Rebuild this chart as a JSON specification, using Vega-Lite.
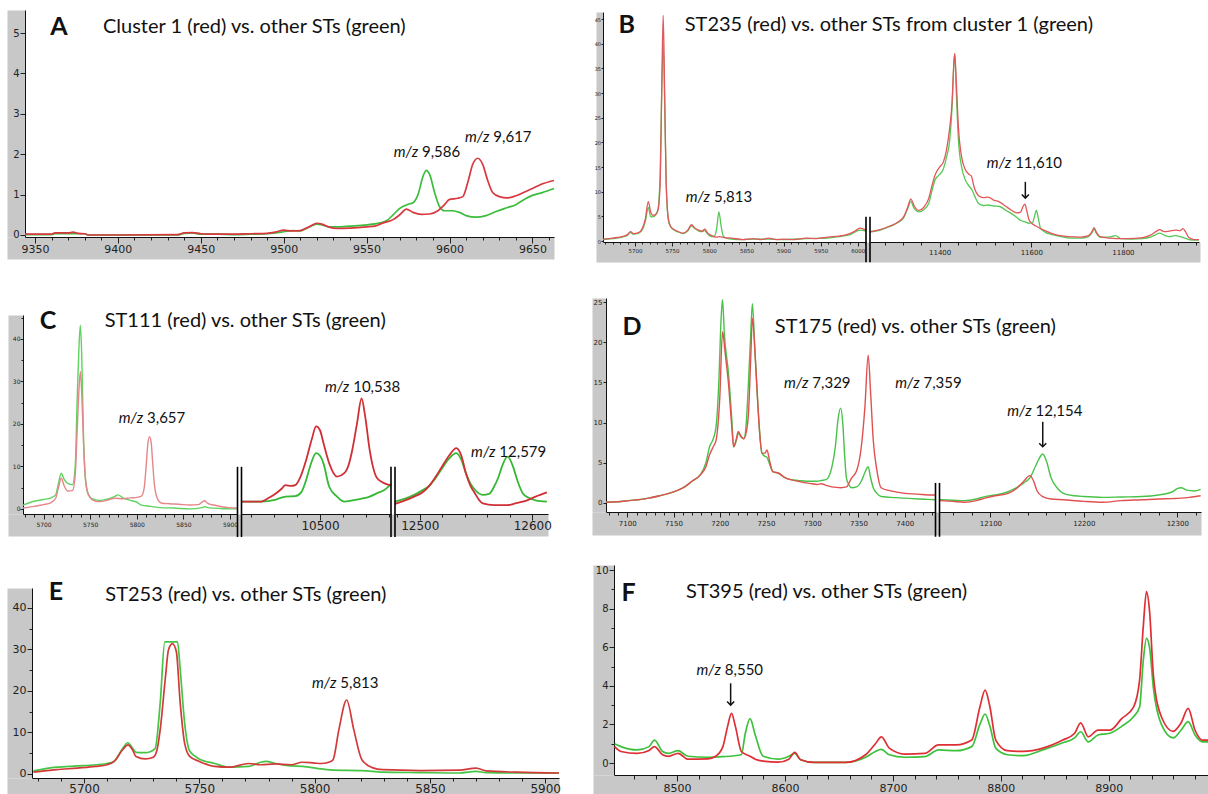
{
"$schema": "https://vega.github.io/schema/vega-lite/v6.json",
"width": 1208, "height": 794,
"autosize": {"type": "none"},
"padding": 0,
"background": "white",
"config": {
  "view": {"stroke": null},
  "axis": {"labelFont": "DejaVu Sans", "labelColor": "#222", "tickColor": "#222", "domainColor": "#111", "grid": false, "labelOverlap": false, "labelFlush": false, "labelBound": false},
  "line": {"interpolate": "monotone", "strokeWidth": 1.7},
  "text": {"font": "Lato", "color": "#111"}
},
"datasets": {
  "Ag": [{"x":9344,"y":0.01},{"x":9360,"y":0.01},{"x":9362,"y":0.03},{"x":9380,"y":0.03},{"x":9382,"y":0},{"x":9436,"y":0},{"x":9440,"y":0.04},{"x":9445,"y":0.05},{"x":9450,"y":0.02},{"x":9460,"y":0.02},{"x":9470,"y":0.01},{"x":9480,"y":0.02},{"x":9490,"y":0.03},{"x":9495,"y":0.05},{"x":9500,"y":0.08},{"x":9505,"y":0.11},{"x":9510,"y":0.1},{"x":9513,"y":0.15},{"x":9517,"y":0.23},{"x":9520,"y":0.27},{"x":9523,"y":0.25},{"x":9527,"y":0.2},{"x":9532,"y":0.2},{"x":9540,"y":0.22},{"x":9550,"y":0.25},{"x":9558,"y":0.3},{"x":9562,"y":0.35},{"x":9566,"y":0.5},{"x":9570,"y":0.66},{"x":9575,"y":0.76},{"x":9578,"y":0.8},{"x":9581,"y":1.0},{"x":9584,"y":1.45},{"x":9586,"y":1.6},{"x":9588,"y":1.5},{"x":9591,"y":1.05},{"x":9594,"y":0.7},{"x":9597,"y":0.6},{"x":9602,"y":0.6},{"x":9606,"y":0.56},{"x":9610,"y":0.48},{"x":9616,"y":0.44},{"x":9622,"y":0.48},{"x":9628,"y":0.58},{"x":9635,"y":0.68},{"x":9640,"y":0.75},{"x":9645,"y":0.88},{"x":9650,"y":0.98},{"x":9656,"y":1.05},{"x":9663,"y":1.15}],
  "Ar": [{"x":9344,"y":0.02},{"x":9360,"y":0.02},{"x":9362,"y":0.05},{"x":9370,"y":0.05},{"x":9373,"y":0.07},{"x":9376,"y":0.04},{"x":9380,"y":0.03},{"x":9382,"y":0},{"x":9400,"y":0},{"x":9436,"y":0.01},{"x":9440,"y":0.05},{"x":9445,"y":0.06},{"x":9450,"y":0.03},{"x":9455,"y":0.02},{"x":9460,"y":0.02},{"x":9470,"y":0.02},{"x":9480,"y":0.03},{"x":9490,"y":0.04},{"x":9495,"y":0.07},{"x":9500,"y":0.12},{"x":9505,"y":0.1},{"x":9510,"y":0.11},{"x":9513,"y":0.16},{"x":9517,"y":0.24},{"x":9520,"y":0.29},{"x":9523,"y":0.27},{"x":9527,"y":0.2},{"x":9532,"y":0.16},{"x":9540,"y":0.17},{"x":9550,"y":0.2},{"x":9555,"y":0.22},{"x":9560,"y":0.3},{"x":9566,"y":0.38},{"x":9570,"y":0.5},{"x":9574,"y":0.64},{"x":9578,"y":0.56},{"x":9583,"y":0.51},{"x":9588,"y":0.52},{"x":9593,"y":0.6},{"x":9597,"y":0.75},{"x":9600,"y":0.88},{"x":9605,"y":0.91},{"x":9608,"y":0.95},{"x":9611,"y":1.3},{"x":9614,"y":1.75},{"x":9617,"y":1.9},{"x":9620,"y":1.75},{"x":9623,"y":1.35},{"x":9626,"y":1.05},{"x":9630,"y":0.95},{"x":9635,"y":0.92},{"x":9640,"y":0.97},{"x":9645,"y":1.06},{"x":9650,"y":1.15},{"x":9655,"y":1.25},{"x":9663,"y":1.35}],
  "BLr": [{"x":5657,"y":0.4},{"x":5670,"y":0.6},{"x":5685,"y":1.0},{"x":5690,"y":1.3},{"x":5694,"y":1.9},{"x":5698,"y":1.5},{"x":5705,"y":1.7},{"x":5710,"y":2.6},{"x":5714,"y":4.5},{"x":5718,"y":8.0},{"x":5721,"y":6.0},{"x":5724,"y":5.2},{"x":5728,"y":5.4},{"x":5731,"y":6.2},{"x":5734,"y":12},{"x":5736,"y":30},{"x":5738,"y":45.8},{"x":5740,"y":30},{"x":5742,"y":12},{"x":5745,"y":4.5},{"x":5748,"y":3.0},{"x":5752,"y":2.4},{"x":5757,"y":2.0},{"x":5765,"y":1.6},{"x":5771,"y":2.2},{"x":5776,"y":3.3},{"x":5781,"y":2.6},{"x":5786,"y":2.2},{"x":5790,"y":2.0},{"x":5794,"y":2.4},{"x":5798,"y":1.6},{"x":5803,"y":1.1},{"x":5810,"y":0.8},{"x":5814,"y":0.9},{"x":5820,"y":0.7},{"x":5830,"y":0.6},{"x":5845,"y":0.3},{"x":5860,"y":0.5},{"x":5870,"y":0.3},{"x":5880,"y":0.6},{"x":5890,"y":0.3},{"x":5900,"y":0.4},{"x":5915,"y":0.3},{"x":5930,"y":0.6},{"x":5945,"y":0.5},{"x":5960,"y":0.8},{"x":5975,"y":1.0},{"x":5985,"y":1.3},{"x":5995,"y":1.9},{"x":6003,"y":2.6},{"x":6011,"y":2.2}],
  "BLg": [{"x":5657,"y":0.3},{"x":5670,"y":0.5},{"x":5685,"y":0.9},{"x":5690,"y":1.2},{"x":5694,"y":1.7},{"x":5698,"y":1.4},{"x":5705,"y":1.6},{"x":5710,"y":2.3},{"x":5714,"y":4.0},{"x":5718,"y":6.8},{"x":5721,"y":5.0},{"x":5724,"y":4.9},{"x":5728,"y":5.3},{"x":5731,"y":6.5},{"x":5734,"y":14},{"x":5736,"y":30},{"x":5738,"y":40},{"x":5740,"y":28},{"x":5742,"y":12},{"x":5745,"y":4.2},{"x":5748,"y":2.9},{"x":5752,"y":2.3},{"x":5757,"y":1.9},{"x":5765,"y":1.5},{"x":5771,"y":2.0},{"x":5776,"y":3.0},{"x":5781,"y":2.5},{"x":5786,"y":2.0},{"x":5790,"y":1.9},{"x":5794,"y":2.1},{"x":5798,"y":1.4},{"x":5803,"y":0.9},{"x":5807,"y":1.0},{"x":5810,"y":2.5},{"x":5813,"y":5.9},{"x":5816,"y":3.0},{"x":5819,"y":1.0},{"x":5825,"y":0.5},{"x":5840,"y":0.3},{"x":5860,"y":0.4},{"x":5880,"y":0.4},{"x":5900,"y":0.3},{"x":5930,"y":0.5},{"x":5960,"y":0.6},{"x":5975,"y":0.9},{"x":5990,"y":1.3},{"x":6003,"y":2.2},{"x":6011,"y":2.0}],
  "BRr": [{"x":11248,"y":1.9},{"x":11270,"y":2.3},{"x":11290,"y":3.0},{"x":11310,"y":3.9},{"x":11322,"y":5.0},{"x":11330,"y":6.8},{"x":11337,"y":8.5},{"x":11345,"y":7.0},{"x":11355,"y":6.2},{"x":11365,"y":6.8},{"x":11376,"y":8.6},{"x":11384,"y":11.5},{"x":11390,"y":13.4},{"x":11400,"y":15.0},{"x":11408,"y":16.0},{"x":11415,"y":18.5},{"x":11422,"y":23.0},{"x":11427,"y":28},{"x":11431,"y":36},{"x":11433,"y":38},{"x":11436,"y":33},{"x":11441,"y":23},{"x":11448,"y":17},{"x":11456,"y":14.5},{"x":11463,"y":13.6},{"x":11469,"y":13.2},{"x":11475,"y":11},{"x":11485,"y":9.2},{"x":11495,"y":8.8},{"x":11506,"y":8.9},{"x":11518,"y":8.3},{"x":11531,"y":7.9},{"x":11545,"y":7.0},{"x":11556,"y":6.3},{"x":11568,"y":5.7},{"x":11576,"y":5.8},{"x":11582,"y":7.0},{"x":11586,"y":7.5},{"x":11590,"y":6.2},{"x":11595,"y":4.3},{"x":11602,"y":3.5},{"x":11611,"y":3.0},{"x":11625,"y":2.3},{"x":11640,"y":1.7},{"x":11657,"y":1.2},{"x":11680,"y":0.9},{"x":11708,"y":0.8},{"x":11725,"y":1.1},{"x":11733,"y":2.0},{"x":11737,"y":2.7},{"x":11742,"y":1.8},{"x":11750,"y":0.9},{"x":11770,"y":0.6},{"x":11784,"y":0.5},{"x":11810,"y":0.5},{"x":11843,"y":0.7},{"x":11860,"y":1.2},{"x":11872,"y":1.9},{"x":11880,"y":2.3},{"x":11890,"y":1.9},{"x":11901,"y":2.0},{"x":11915,"y":2.2},{"x":11925,"y":2.1},{"x":11931,"y":2.5},{"x":11937,"y":1.8},{"x":11944,"y":0.7},{"x":11955,"y":0.3},{"x":11966,"y":0.3}],
  "BRg": [{"x":11248,"y":1.8},{"x":11270,"y":2.2},{"x":11290,"y":2.9},{"x":11310,"y":3.8},{"x":11322,"y":4.8},{"x":11330,"y":6.5},{"x":11337,"y":8.0},{"x":11345,"y":6.5},{"x":11355,"y":5.9},{"x":11365,"y":6.3},{"x":11376,"y":7.6},{"x":11384,"y":10.5},{"x":11390,"y":12.4},{"x":11400,"y":13.5},{"x":11408,"y":14.6},{"x":11415,"y":17},{"x":11422,"y":20.5},{"x":11427,"y":27},{"x":11431,"y":36},{"x":11433,"y":38},{"x":11436,"y":31},{"x":11441,"y":20.5},{"x":11448,"y":15},{"x":11456,"y":12.4},{"x":11463,"y":11.3},{"x":11471,"y":10.3},{"x":11478,"y":8.8},{"x":11485,"y":7.6},{"x":11495,"y":7.2},{"x":11506,"y":7.3},{"x":11518,"y":7.1},{"x":11531,"y":7.0},{"x":11545,"y":6.2},{"x":11556,"y":5.6},{"x":11568,"y":4.8},{"x":11576,"y":4.2},{"x":11586,"y":3.9},{"x":11595,"y":3.6},{"x":11603,"y":3.8},{"x":11607,"y":5.0},{"x":11611,"y":6.2},{"x":11615,"y":4.8},{"x":11620,"y":2.6},{"x":11630,"y":1.8},{"x":11645,"y":1.3},{"x":11660,"y":1.0},{"x":11690,"y":0.6},{"x":11708,"y":0.6},{"x":11725,"y":0.9},{"x":11733,"y":1.8},{"x":11737,"y":2.4},{"x":11742,"y":1.6},{"x":11750,"y":0.8},{"x":11770,"y":0.8},{"x":11784,"y":1.1},{"x":11795,"y":0.5},{"x":11820,"y":0.4},{"x":11843,"y":0.5},{"x":11860,"y":0.8},{"x":11872,"y":1.3},{"x":11880,"y":1.6},{"x":11890,"y":1.2},{"x":11901,"y":0.9},{"x":11915,"y":1.1},{"x":11925,"y":0.9},{"x":11935,"y":0.6},{"x":11944,"y":0.3},{"x":11955,"y":0.2},{"x":11966,"y":0.2}],
  "CLr": [{"x":5678,"y":0.2},{"x":5690,"y":0.6},{"x":5700,"y":1.0},{"x":5708,"y":1.5},{"x":5713,"y":2.5},{"x":5716,"y":5.0},{"x":5719,"y":7.2},{"x":5722,"y":5.5},{"x":5726,"y":4.2},{"x":5731,"y":4.3},{"x":5734,"y":8},{"x":5736,"y":18},{"x":5738,"y":28},{"x":5739.5,"y":32.3},{"x":5741,"y":27},{"x":5743,"y":15},{"x":5745,"y":7},{"x":5748,"y":3.3},{"x":5752,"y":2.2},{"x":5760,"y":1.7},{"x":5768,"y":2.0},{"x":5776,"y":2.5},{"x":5785,"y":2.4},{"x":5793,"y":2.6},{"x":5800,"y":2.7},{"x":5805,"y":3.0},{"x":5808,"y":5.0},{"x":5810,"y":10},{"x":5812,"y":15.5},{"x":5813.7,"y":17.0},{"x":5815.5,"y":15.5},{"x":5817,"y":11},{"x":5819,"y":5.5},{"x":5822,"y":2.5},{"x":5826,"y":1.4},{"x":5835,"y":1.2},{"x":5845,"y":1.1},{"x":5857,"y":0.9},{"x":5866,"y":1.0},{"x":5870,"y":1.6},{"x":5873,"y":1.9},{"x":5876,"y":1.3},{"x":5885,"y":0.8},{"x":5898,"y":0.3},{"x":5908,"y":0.2}],
  "CLg": [{"x":5678,"y":0.9},{"x":5690,"y":1.8},{"x":5700,"y":2.2},{"x":5708,"y":2.6},{"x":5713,"y":3.3},{"x":5716,"y":6.0},{"x":5719,"y":8.4},{"x":5722,"y":7.0},{"x":5726,"y":6.0},{"x":5731,"y":5.7},{"x":5734,"y":10},{"x":5736,"y":25},{"x":5738,"y":38},{"x":5739.5,"y":43.2},{"x":5741,"y":36},{"x":5743,"y":16},{"x":5745,"y":7},{"x":5748,"y":3.5},{"x":5752,"y":2.4},{"x":5760,"y":2.0},{"x":5768,"y":2.3},{"x":5776,"y":2.9},{"x":5780,"y":3.3},{"x":5785,"y":2.6},{"x":5793,"y":2.0},{"x":5800,"y":1.6},{"x":5805,"y":0.9},{"x":5815,"y":0.6},{"x":5825,"y":0.3},{"x":5840,"y":0.2},{"x":5857,"y":0.0},{"x":5870,"y":0.3},{"x":5873,"y":0.5},{"x":5876,"y":0.3},{"x":5890,"y":0.1},{"x":5908,"y":0.0}],
  "CMr": [{"x":10432,"y":1.7},{"x":10449,"y":1.7},{"x":10455,"y":2.5},{"x":10462,"y":3.7},{"x":10467,"y":4.8},{"x":10470,"y":5.6},{"x":10475,"y":5.4},{"x":10478.5,"y":5.6},{"x":10483,"y":7.5},{"x":10488,"y":11.5},{"x":10493,"y":16.5},{"x":10496.6,"y":19.4},{"x":10500,"y":18.5},{"x":10503,"y":15.5},{"x":10508,"y":10.7},{"x":10514.8,"y":7.6},{"x":10521,"y":8.4},{"x":10525,"y":10.5},{"x":10528,"y":13.9},{"x":10532,"y":20},{"x":10536,"y":26.0},{"x":10539,"y":22},{"x":10543,"y":13.9},{"x":10549.5,"y":7.2},{"x":10556,"y":6.0},{"x":10561.5,"y":5.5}],
  "CMg": [{"x":10432,"y":1.7},{"x":10449,"y":1.7},{"x":10462,"y":2.2},{"x":10470,"y":2.9},{"x":10478.5,"y":3.0},{"x":10484,"y":4.0},{"x":10488,"y":6.8},{"x":10492,"y":10.5},{"x":10496.6,"y":13.1},{"x":10500,"y":12.5},{"x":10503,"y":10.7},{"x":10508,"y":5.2},{"x":10514.8,"y":2.9},{"x":10521,"y":1.7},{"x":10528,"y":2.0},{"x":10536,"y":2.4},{"x":10543,"y":2.9},{"x":10549.5,"y":3.7},{"x":10556,"y":4.5},{"x":10561.5,"y":5.9}],
  "CRr": [{"x":12478,"y":1.2},{"x":12487,"y":2.0},{"x":12495,"y":2.9},{"x":12502,"y":3.8},{"x":12509,"y":5.6},{"x":12514,"y":7.5},{"x":12519,"y":9.6},{"x":12526,"y":12.5},{"x":12532.5,"y":14.3},{"x":12537,"y":12.5},{"x":12541,"y":8.4},{"x":12545,"y":5.5},{"x":12549,"y":3.7},{"x":12553,"y":2.0},{"x":12556,"y":1.3},{"x":12566,"y":0.9},{"x":12578,"y":0.9},{"x":12585,"y":1.3},{"x":12591.5,"y":1.7},{"x":12597,"y":2.2},{"x":12603,"y":2.9},{"x":12613,"y":3.9}],
  "CRg": [{"x":12478,"y":1.7},{"x":12487,"y":2.4},{"x":12495,"y":3.3},{"x":12502,"y":4.3},{"x":12509,"y":5.6},{"x":12514,"y":7.2},{"x":12519,"y":9.2},{"x":12526,"y":11.8},{"x":12532.5,"y":13.1},{"x":12537,"y":11.5},{"x":12541,"y":8.4},{"x":12545,"y":6.0},{"x":12549,"y":4.5},{"x":12556,"y":3.3},{"x":12562,"y":3.6},{"x":12566,"y":5.2},{"x":12570,"y":7.5},{"x":12573,"y":9.9},{"x":12578,"y":12.3},{"x":12583,"y":9.9},{"x":12587,"y":6.5},{"x":12591.5,"y":3.7},{"x":12597,"y":2.6},{"x":12603,"y":2.0},{"x":12613,"y":1.7}],
  "DLr": [{"x":7077,"y":0.1},{"x":7090,"y":0.15},{"x":7102,"y":0.3},{"x":7115,"y":0.45},{"x":7123,"y":0.6},{"x":7135,"y":0.9},{"x":7145,"y":1.2},{"x":7155,"y":1.6},{"x":7162,"y":2.0},{"x":7170,"y":2.7},{"x":7179,"y":3.5},{"x":7185,"y":4.5},{"x":7189,"y":6.0},{"x":7193,"y":7.0},{"x":7196,"y":7.8},{"x":7200,"y":13},{"x":7203,"y":21.3},{"x":7206,"y":18.5},{"x":7209.4,"y":14.9},{"x":7213,"y":9.5},{"x":7215,"y":7.0},{"x":7218,"y":8.0},{"x":7220,"y":8.9},{"x":7223,"y":8.3},{"x":7226,"y":8.0},{"x":7229,"y":9.0},{"x":7231,"y":11.0},{"x":7233.5,"y":18},{"x":7235.3,"y":23.0},{"x":7238,"y":19},{"x":7240.5,"y":13.7},{"x":7243,"y":9.0},{"x":7245.6,"y":6.2},{"x":7249,"y":6.2},{"x":7251,"y":6.6},{"x":7254,"y":5.2},{"x":7257.4,"y":3.9},{"x":7263.7,"y":3.7},{"x":7270,"y":3.2},{"x":7276.6,"y":2.9},{"x":7285,"y":2.7},{"x":7293.6,"y":2.5},{"x":7300,"y":2.4},{"x":7305,"y":2.3},{"x":7310,"y":2.4},{"x":7315,"y":2.2},{"x":7321,"y":2.0},{"x":7331,"y":1.9},{"x":7337,"y":2.0},{"x":7342.5,"y":3.1},{"x":7348,"y":4.0},{"x":7353,"y":6.9},{"x":7357,"y":12},{"x":7360.5,"y":18.4},{"x":7363,"y":14},{"x":7366,"y":7.8},{"x":7370,"y":4.0},{"x":7374.5,"y":1.9},{"x":7385,"y":1.5},{"x":7400,"y":1.2},{"x":7415,"y":1.1},{"x":7425,"y":1.0},{"x":7433,"y":1.0}],
  "DLg": [{"x":7077,"y":0.1},{"x":7090,"y":0.15},{"x":7102,"y":0.3},{"x":7115,"y":0.45},{"x":7123,"y":0.6},{"x":7135,"y":0.9},{"x":7145,"y":1.2},{"x":7155,"y":1.6},{"x":7162,"y":2.0},{"x":7170,"y":2.7},{"x":7179,"y":3.5},{"x":7185,"y":5.0},{"x":7189,"y":7.0},{"x":7193,"y":8.0},{"x":7196,"y":9.5},{"x":7199,"y":15},{"x":7201.5,"y":23},{"x":7203,"y":25.3},{"x":7205,"y":21},{"x":7209.4,"y":16.2},{"x":7213,"y":10.5},{"x":7215,"y":7.0},{"x":7218,"y":7.8},{"x":7220,"y":8.7},{"x":7223,"y":8.2},{"x":7226,"y":8.0},{"x":7229,"y":10.5},{"x":7231,"y":14.9},{"x":7233.5,"y":21},{"x":7235.3,"y":24.8},{"x":7238,"y":19},{"x":7240.5,"y":13.7},{"x":7243,"y":9.0},{"x":7245.6,"y":6.2},{"x":7249,"y":5.8},{"x":7251,"y":5.7},{"x":7254,"y":4.8},{"x":7257.4,"y":3.9},{"x":7263.7,"y":3.7},{"x":7270,"y":3.2},{"x":7276.6,"y":2.9},{"x":7285,"y":2.8},{"x":7293.6,"y":2.7},{"x":7300,"y":2.7},{"x":7305,"y":2.7},{"x":7310,"y":2.8},{"x":7315,"y":2.9},{"x":7318,"y":3.3},{"x":7321.3,"y":4.5},{"x":7325,"y":7.0},{"x":7328,"y":10.5},{"x":7330.7,"y":11.8},{"x":7333,"y":10.0},{"x":7335,"y":6.0},{"x":7337,"y":3.1},{"x":7340,"y":2.2},{"x":7342.5,"y":1.9},{"x":7348,"y":2.0},{"x":7353,"y":2.7},{"x":7357,"y":3.8},{"x":7360.5,"y":4.5},{"x":7363,"y":3.2},{"x":7366,"y":1.9},{"x":7370,"y":1.2},{"x":7374.5,"y":0.8},{"x":7385,"y":0.7},{"x":7400,"y":0.6},{"x":7415,"y":0.5},{"x":7425,"y":0.45},{"x":7433,"y":0.4}],
  "DRr": [{"x":12046,"y":0.3},{"x":12060,"y":0.2},{"x":12072,"y":0.1},{"x":12085,"y":0.3},{"x":12094,"y":0.6},{"x":12105,"y":0.9},{"x":12119,"y":1.2},{"x":12128,"y":1.8},{"x":12135.7,"y":2.7},{"x":12142,"y":3.4},{"x":12146,"y":2.8},{"x":12150,"y":1.5},{"x":12156,"y":0.8},{"x":12165,"y":0.5},{"x":12178,"y":0.4},{"x":12200,"y":0.2},{"x":12220,"y":0.1},{"x":12240,"y":0.3},{"x":12262,"y":0.4},{"x":12280,"y":0.5},{"x":12295,"y":0.55},{"x":12304,"y":0.6},{"x":12313,"y":0.7},{"x":12325,"y":0.9}],
  "DRg": [{"x":12046,"y":0.4},{"x":12060,"y":0.35},{"x":12072,"y":0.3},{"x":12085,"y":0.5},{"x":12094,"y":0.8},{"x":12105,"y":1.0},{"x":12119,"y":1.4},{"x":12128,"y":1.9},{"x":12135.7,"y":2.5},{"x":12142,"y":3.1},{"x":12148,"y":4.5},{"x":12152,"y":5.5},{"x":12156,"y":6.1},{"x":12160,"y":5.2},{"x":12165,"y":3.1},{"x":12172,"y":1.8},{"x":12178,"y":1.2},{"x":12190,"y":0.9},{"x":12200,"y":0.8},{"x":12220,"y":0.7},{"x":12240,"y":0.75},{"x":12262,"y":0.8},{"x":12280,"y":1.0},{"x":12295,"y":1.4},{"x":12300,"y":1.8},{"x":12304,"y":1.9},{"x":12310,"y":1.6},{"x":12318,"y":1.5},{"x":12325,"y":1.7}],
  "Er": [{"x":5678,"y":0.4},{"x":5688,"y":1.0},{"x":5697,"y":1.4},{"x":5705,"y":1.8},{"x":5710,"y":2.2},{"x":5713,"y":3.0},{"x":5716.7,"y":5.8},{"x":5719,"y":7.0},{"x":5721,"y":5.8},{"x":5722.5,"y":4.2},{"x":5726.6,"y":3.6},{"x":5730,"y":4.0},{"x":5731.5,"y":5.5},{"x":5733,"y":10.6},{"x":5735.3,"y":23.4},{"x":5736.6,"y":29.9},{"x":5738.3,"y":31.4},{"x":5740,"y":29.5},{"x":5741.7,"y":17.0},{"x":5743.6,"y":7.4},{"x":5745.8,"y":4.2},{"x":5750,"y":3.0},{"x":5756.6,"y":1.8},{"x":5763,"y":1.6},{"x":5771.5,"y":2.5},{"x":5776.5,"y":2.2},{"x":5783,"y":2.4},{"x":5789.8,"y":2.2},{"x":5794.7,"y":2.8},{"x":5800,"y":2.6},{"x":5803,"y":2.5},{"x":5807,"y":3.0},{"x":5808,"y":3.4},{"x":5810.5,"y":10.6},{"x":5813.9,"y":17.8},{"x":5817,"y":10.6},{"x":5820.5,"y":3.4},{"x":5825,"y":1.5},{"x":5829.6,"y":1.0},{"x":5846,"y":0.8},{"x":5862.8,"y":0.9},{"x":5870,"y":1.4},{"x":5874.5,"y":0.7},{"x":5887.8,"y":0.4},{"x":5906,"y":0.2}],
  "Eg": [{"x":5678,"y":0.7},{"x":5688,"y":1.6},{"x":5697,"y":1.9},{"x":5705,"y":2.2},{"x":5710,"y":2.5},{"x":5713,"y":3.0},{"x":5716.7,"y":6.1},{"x":5719,"y":7.5},{"x":5721,"y":6.2},{"x":5722.5,"y":5.2},{"x":5726.6,"y":5.1},{"x":5730.8,"y":6.1},{"x":5733,"y":17.0},{"x":5735,"y":31.8},{"x":5737,"y":31.8},{"x":5739,"y":31.8},{"x":5740.5,"y":31.8},{"x":5741.7,"y":25.1},{"x":5743.6,"y":12.3},{"x":5745.8,"y":5.5},{"x":5750,"y":3.6},{"x":5756.6,"y":2.5},{"x":5763,"y":1.6},{"x":5771.5,"y":1.8},{"x":5776.5,"y":2.8},{"x":5779,"y":3.0},{"x":5783,"y":2.5},{"x":5789.8,"y":1.9},{"x":5794.7,"y":1.8},{"x":5803,"y":1.2},{"x":5808,"y":0.9},{"x":5820.5,"y":0.8},{"x":5829.6,"y":0.4},{"x":5846,"y":0.3},{"x":5862.8,"y":0.2},{"x":5870,"y":0.6},{"x":5874.5,"y":0.3},{"x":5887.8,"y":0.2},{"x":5906,"y":0.2}],
  "Fr": [{"x":8442,"y":0.85},{"x":8448,"y":0.6},{"x":8463,"y":0.5},{"x":8474,"y":0.65},{"x":8479,"y":0.85},{"x":8486.5,"y":0.43},{"x":8492,"y":0.35},{"x":8501,"y":0.5},{"x":8510,"y":0.2},{"x":8528.5,"y":0.22},{"x":8535.7,"y":0.35},{"x":8542.4,"y":0.85},{"x":8546.8,"y":1.9},{"x":8550.4,"y":2.57},{"x":8554,"y":1.9},{"x":8559.5,"y":0.6},{"x":8567.6,"y":0.35},{"x":8572.4,"y":0.2},{"x":8579.7,"y":0.1},{"x":8594,"y":0.05},{"x":8603.5,"y":0.2},{"x":8609,"y":0.55},{"x":8614.4,"y":0.17},{"x":8627,"y":0.03},{"x":8656,"y":0.03},{"x":8674.7,"y":0.43},{"x":8683.8,"y":1.0},{"x":8689.3,"y":1.36},{"x":8696.6,"y":0.77},{"x":8711,"y":0.46},{"x":8729.6,"y":0.5},{"x":8742.3,"y":0.94},{"x":8758.7,"y":0.94},{"x":8773,"y":1.19},{"x":8780.6,"y":2.9},{"x":8785.4,"y":3.78},{"x":8789.9,"y":2.9},{"x":8795.3,"y":1.19},{"x":8806,"y":0.64},{"x":8821,"y":0.6},{"x":8839,"y":0.77},{"x":8857.4,"y":1.19},{"x":8868.4,"y":1.54},{"x":8874,"y":2.08},{"x":8881,"y":1.36},{"x":8890,"y":1.7},{"x":8901,"y":1.7},{"x":8912,"y":2.3},{"x":8923,"y":2.9},{"x":8928.6,"y":4.3},{"x":8932,"y":7.06},{"x":8935,"y":8.88},{"x":8937.8,"y":7.9},{"x":8941.5,"y":4.47},{"x":8948.8,"y":2.4},{"x":8959.7,"y":1.64},{"x":8967,"y":2.07},{"x":8973.6,"y":2.83},{"x":8980,"y":1.7},{"x":8987,"y":1.19},{"x":8992,"y":1.19}],
  "Fg": [{"x":8442,"y":1.0},{"x":8448,"y":0.85},{"x":8463,"y":0.68},{"x":8474,"y":0.85},{"x":8479,"y":1.19},{"x":8486.5,"y":0.6},{"x":8492,"y":0.5},{"x":8501,"y":0.64},{"x":8510,"y":0.35},{"x":8528.5,"y":0.3},{"x":8542.4,"y":0.33},{"x":8559.5,"y":0.43},{"x":8563.2,"y":1.54},{"x":8567.6,"y":2.3},{"x":8572.4,"y":1.45},{"x":8579.7,"y":0.35},{"x":8594,"y":0.2},{"x":8603.5,"y":0.35},{"x":8609,"y":0.5},{"x":8614.4,"y":0.17},{"x":8627,"y":0.03},{"x":8656,"y":0.03},{"x":8674.7,"y":0.3},{"x":8683.8,"y":0.6},{"x":8689.3,"y":0.71},{"x":8696.6,"y":0.43},{"x":8711,"y":0.3},{"x":8729.6,"y":0.33},{"x":8742.3,"y":0.68},{"x":8758.7,"y":0.64},{"x":8773,"y":0.85},{"x":8780.6,"y":2.0},{"x":8785.4,"y":2.54},{"x":8789.9,"y":1.9},{"x":8795.3,"y":0.77},{"x":8806,"y":0.43},{"x":8821,"y":0.38},{"x":8839,"y":0.68},{"x":8857.4,"y":1.05},{"x":8868.4,"y":1.3},{"x":8874,"y":1.62},{"x":8881,"y":1.1},{"x":8890,"y":1.45},{"x":8901,"y":1.54},{"x":8912,"y":1.9},{"x":8923,"y":2.4},{"x":8928.6,"y":2.9},{"x":8932,"y":5.3},{"x":8935,"y":6.46},{"x":8937.8,"y":6.0},{"x":8941.5,"y":3.84},{"x":8948.8,"y":2.0},{"x":8959.7,"y":1.3},{"x":8967,"y":1.7},{"x":8973.6,"y":2.15},{"x":8980,"y":1.45},{"x":8987,"y":1.1},{"x":8992,"y":1.1}]
},
"layer": [
 {"layer": [
   {"data": {"name": "Ag"}, "mark": {"type": "line", "color": "#3dbd3d"},
    "encoding": {
     "x": {"field": "x", "type": "quantitative", "scale": {"domain": [9344, 9663], "range": [25, 554], "nice": false, "zero": false},
           "axis": {"orient": "bottom", "offset": -546, "domainColor": "#c8c8c8", "domainWidth": 22, "ticks": false, "labels": false, "title": null, "encoding": {"domain": {"x": {"value": 7}, "x2": {"value": 554}}}}},
     "y": {"field": "y", "type": "quantitative", "scale": {"domain": [-0.05, 5.57], "range": [237, 10], "nice": false, "zero": false},
           "axis": {"orient": "left", "offset": -16, "domainColor": "#c8c8c8", "domainWidth": 18, "ticks": false, "labels": false, "title": null}}}},
   {"layer": [
     {"data": {"name": "Ar"}, "mark": {"type": "line", "color": "#d8383f"},
      "encoding": {
       "x": {"field": "x", "type": "quantitative", "scale": {"domain": [9344, 9663], "range": [25, 554], "nice": false, "zero": false},
             "axis": {"orient": "bottom", "offset": -557, "title": null, "format": "d", "tickCount": 500, "labelOverlap": false, "labelFlush": false, "values": [9350,9360,9370,9380,9390,9400,9410,9420,9430,9440,9450,9460,9470,9480,9490,9500,9510,9520,9530,9540,9550,9560,9570,9580,9590,9600,9610,9620,9630,9640,9650,9660], "labelExpr": "datum.value % 50 === 0 ? datum.label : ''", "labelFontSize": 11, "tickSize": 4, "labelPadding": 2, "encoding": {"ticks": {"y2": {"value": {"expr": "datum.value % 50 === 0 ? 6 : 3"}}}}}},
       "y": {"field": "y", "type": "quantitative", "scale": {"domain": [-0.05, 5.57], "range": [237, 10], "nice": false, "zero": false},
             "axis": {"orient": "left", "offset": -25, "title": null, "format": "d", "tickCount": 500, "labelOverlap": false, "labelFlush": false, "values": [0,0.5,1,1.5,2,2.5,3,3.5,4,4.5,5,5.5], "labelExpr": "datum.value % 1 === 0 ? datum.label : ''", "labelFontSize": 10, "tickSize": 4, "labelPadding": 2, "encoding": {"ticks": {"x2": {"value": {"expr": "datum.value % 1 === 0 ? -5 : -3"}}}}}}}},
     {"data": {"values": [{"x": 9364.5, "y": 5.15, "t": "A"}]}, "mark": {"type": "text", "fontSize": 25, "fontWeight": "bold", "align": "center", "baseline": "middle"},
      "encoding": {"x": {"field": "x", "type": "quantitative", "axis": {"title": null}}, "y": {"field": "y", "type": "quantitative", "axis": {"title": null}}, "text": {"field": "t"}}},
     {"data": {"values": [{"x": 9391, "y": 5.15, "t": "Cluster 1 (red) vs. other STs (green)"}]}, "mark": {"type": "text", "fontSize": 20, "align": "left", "baseline": "middle"},
      "encoding": {"x": {"field": "x", "type": "quantitative", "axis": {"title": null}}, "y": {"field": "y", "type": "quantitative", "axis": {"title": null}}, "text": {"field": "t"}}},
     {"data": {"values": [{"x": 9581, "y": 2.05, "n": "9,586"}, {"x": 9624, "y": 2.42, "n": "9,617"}]}, "mark": {"type": "text", "fontSize": 15, "fontStyle": "italic", "align": "right", "baseline": "middle", "text": "m/z"},
      "encoding": {"x": {"field": "x", "type": "quantitative", "axis": {"title": null}}, "y": {"field": "y", "type": "quantitative", "axis": {"title": null}}}},
     {"data": {"values": [{"x": 9581, "y": 2.05, "n": "9,586"}, {"x": 9624, "y": 2.42, "n": "9,617"}]}, "mark": {"type": "text", "fontSize": 15, "align": "left", "baseline": "middle", "dx": 4},
      "encoding": {"x": {"field": "x", "type": "quantitative", "axis": {"title": null}}, "y": {"field": "y", "type": "quantitative", "axis": {"title": null}}, "text": {"field": "n"}}}
   ]}
  ],
  "resolve": {"scale": {"x": "independent", "y": "independent"}, "axis": {"x": "independent", "y": "independent"}}},

 {"layer": [
   {"data": {"name": "BLg"}, "mark": {"type": "line", "color": "#55c955", "strokeWidth": 1.3},
    "encoding": {
     "x": {"field": "x", "type": "quantitative", "scale": {"domain": [5657, 6011], "range": [603, 866], "nice": false, "zero": false},
           "axis": {"orient": "bottom", "offset": -542, "domainColor": "#c8c8c8", "domainWidth": 20, "ticks": false, "labels": false, "title": null, "encoding": {"domain": {"x": {"value": 596}, "x2": {"value": 1200}}}}},
     "y": {"field": "y", "type": "quantitative", "scale": {"domain": [-0.2, 46.45], "range": [242, 12], "nice": false, "zero": false},
           "axis": {"orient": "left", "offset": -599.5, "domainColor": "#c8c8c8", "domainWidth": 7, "ticks": false, "labels": false, "title": null}}}},
   {"data": {"name": "BRg"}, "mark": {"type": "line", "color": "#55c955", "strokeWidth": 1.3},
    "encoding": {
     "x": {"field": "x", "type": "quantitative", "scale": {"domain": [11248, 11966], "range": [870, 1199], "nice": false, "zero": false}, "axis": null},
     "y": {"field": "y", "type": "quantitative", "scale": {"domain": [-0.2, 46.45], "range": [242, 12], "nice": false, "zero": false}, "axis": null}}},
   {"layer": [
     {"data": {"name": "BLr"}, "mark": {"type": "line", "color": "#e2575c", "strokeWidth": 1.3},
      "encoding": {
       "x": {"field": "x", "type": "quantitative", "scale": {"domain": [5657, 6011], "range": [603, 866], "nice": false, "zero": false},
             "axis": {"orient": "bottom", "offset": -552, "title": null, "format": "d", "tickCount": 500, "labelOverlap": false, "labelFlush": false, "values": [5660,5670,5680,5690,5700,5710,5720,5730,5740,5750,5760,5770,5780,5790,5800,5810,5820,5830,5840,5850,5860,5870,5880,5890,5900,5910,5920,5930,5940,5950,5960,5970,5980,5990,6000,6010], "labelExpr": "datum.value % 50 === 0 ? datum.label : ''", "labelFontSize": 5.5, "tickSize": 3, "labelPadding": 3, "encoding": {"ticks": {"y2": {"value": {"expr": "datum.value % 50 === 0 ? 4 : 2"}}}}}},
       "y": {"field": "y", "type": "quantitative", "scale": {"domain": [-0.2, 46.45], "range": [242, 12], "nice": false, "zero": false},
             "axis": {"orient": "left", "offset": -603, "title": null, "format": "d", "tickCount": 500, "labelOverlap": false, "labelFlush": false, "values": [0,5,10,15,20,25,30,35,40,45], "labelFontSize": 5, "tickSize": 2, "labelPadding": 0.5}}}},
     {"data": {"values": [{"x": 5689, "y": 43.8, "t": "B"}]}, "mark": {"type": "text", "fontSize": 25, "fontWeight": "bold", "align": "center", "baseline": "middle"},
      "encoding": {"x": {"field": "x", "type": "quantitative", "axis": {"title": null}}, "y": {"field": "y", "type": "quantitative", "axis": {"title": null}}, "text": {"field": "t"}}},
     {"data": {"values": [{"x": 5767, "y": 43.8, "t": "ST235 (red) vs. other STs from cluster 1 (green)"}]}, "mark": {"type": "text", "fontSize": 20, "align": "left", "baseline": "middle"},
      "encoding": {"x": {"field": "x", "type": "quantitative", "axis": {"title": null}}, "y": {"field": "y", "type": "quantitative", "axis": {"title": null}}, "text": {"field": "t"}}},
     {"data": {"values": [{"x": 5801, "y": 8.9, "n": "5,813"}]}, "mark": {"type": "text", "fontSize": 15, "fontStyle": "italic", "align": "right", "baseline": "middle", "text": "m/z"},
      "encoding": {"x": {"field": "x", "type": "quantitative", "axis": {"title": null}}, "y": {"field": "y", "type": "quantitative", "axis": {"title": null}}}},
     {"data": {"values": [{"x": 5801, "y": 8.9, "n": "5,813"}]}, "mark": {"type": "text", "fontSize": 15, "align": "left", "baseline": "middle", "dx": 4},
      "encoding": {"x": {"field": "x", "type": "quantitative", "axis": {"title": null}}, "y": {"field": "y", "type": "quantitative", "axis": {"title": null}}, "text": {"field": "n"}}},
     {"data": {"values": [{"x": 6011, "y": 4.9, "y2": -4.3}]}, "mark": {"type": "rule", "color": "#000", "strokeWidth": 1.6},
      "encoding": {"x": {"field": "x", "type": "quantitative", "axis": {"title": null}}, "y": {"field": "y", "type": "quantitative", "axis": {"title": null}}, "y2": {"field": "y2"}}}
   ]},
   {"layer": [
     {"data": {"name": "BRr"}, "mark": {"type": "line", "color": "#e2575c", "strokeWidth": 1.3},
      "encoding": {
       "x": {"field": "x", "type": "quantitative", "scale": {"domain": [11248, 11966], "range": [870, 1199], "nice": false, "zero": false},
             "axis": {"orient": "bottom", "offset": -552, "title": null, "format": "d", "tickCount": 500, "labelOverlap": false, "labelFlush": false, "values": [11280,11320,11360,11400,11440,11480,11520,11560,11600,11640,11680,11720,11760,11800,11840,11880,11920,11960], "labelExpr": "datum.value % 200 === 0 ? datum.label : ''", "labelFontSize": 7, "tickSize": 3, "labelPadding": 3, "encoding": {"ticks": {"y2": {"value": {"expr": "datum.value % 200 === 0 ? 5 : 3"}}}}}},
       "y": {"field": "y", "type": "quantitative", "scale": {"domain": [-0.2, 46.45], "range": [242, 12], "nice": false, "zero": false}, "axis": null}}},
     {"data": {"values": [{"x": 11556, "y": 15.8, "n": "11,610"}]}, "mark": {"type": "text", "fontSize": 15, "fontStyle": "italic", "align": "right", "baseline": "middle", "text": "m/z"},
      "encoding": {"x": {"field": "x", "type": "quantitative", "axis": {"title": null}}, "y": {"field": "y", "type": "quantitative", "axis": null}}},
     {"data": {"values": [{"x": 11556, "y": 15.8, "n": "11,610"}]}, "mark": {"type": "text", "fontSize": 15, "align": "left", "baseline": "middle", "dx": 4},
      "encoding": {"x": {"field": "x", "type": "quantitative", "axis": {"title": null}}, "y": {"field": "y", "type": "quantitative", "axis": null}, "text": {"field": "n"}}},
     {"data": {"values": [{"x": 11587, "y": 12.0, "y2": 8.7}]}, "mark": {"type": "rule", "color": "#111", "strokeWidth": 1.5},
      "encoding": {"x": {"field": "x", "type": "quantitative", "axis": {"title": null}}, "y": {"field": "y", "type": "quantitative", "axis": null}, "y2": {"field": "y2"}}},
     {"data": {"values": [{"x": 11587, "y": 12.0, "y2": 8.7}]}, "mark": {"type": "point", "shape": "M-1,-1L0,0L1,-1", "filled": false, "color": "#111", "strokeWidth": 1.5, "size": 50, "opacity": 1},
      "encoding": {"x": {"field": "x", "type": "quantitative", "axis": {"title": null}}, "y": {"field": "y2", "type": "quantitative", "axis": null}}},
     {"data": {"values": [{"x": 11248, "y": 4.9, "y2": -4.3}]}, "mark": {"type": "rule", "color": "#000", "strokeWidth": 1.6},
      "encoding": {"x": {"field": "x", "type": "quantitative", "axis": {"title": null}}, "y": {"field": "y", "type": "quantitative", "axis": null}, "y2": {"field": "y2"}}}
   ]}
  ],
  "resolve": {"scale": {"x": "independent", "y": "independent"}, "axis": {"x": "independent", "y": "independent"}}},

 {"layer": [
   {"data": {"name": "CLg"}, "mark": {"type": "line", "color": "#5fd35f", "strokeWidth": 1.4},
    "encoding": {
     "x": {"field": "x", "type": "quantitative", "scale": {"domain": [5678, 5908], "range": [23, 237.5], "nice": false, "zero": false},
           "axis": {"orient": "bottom", "offset": -269, "domainColor": "#c8c8c8", "domainWidth": 22, "ticks": false, "labels": false, "title": null, "encoding": {"domain": {"x": {"value": 8}, "x2": {"value": 548}}}}},
     "y": {"field": "y", "type": "quantitative", "scale": {"domain": [-1.2, 45.6], "range": [514, 315], "nice": false, "zero": false},
           "axis": {"orient": "left", "offset": -15.5, "domainColor": "#c8c8c8", "domainWidth": 15, "ticks": false, "labels": false, "title": null}}}},
   {"data": {"name": "CMg"}, "mark": {"type": "line", "color": "#35b935", "strokeWidth": 1.8},
    "encoding": {
     "x": {"field": "x", "type": "quantitative", "scale": {"domain": [10432, 10561.5], "range": [241.5, 391], "nice": false, "zero": false}, "axis": null},
     "y": {"field": "y", "type": "quantitative", "scale": {"domain": [-1.2, 45.6], "range": [514, 315], "nice": false, "zero": false}, "axis": null}}},
   {"data": {"name": "CRg"}, "mark": {"type": "line", "color": "#35b935", "strokeWidth": 1.8},
    "encoding": {
     "x": {"field": "x", "type": "quantitative", "scale": {"domain": [12478, 12614], "range": [395, 548], "nice": false, "zero": false}, "axis": null},
     "y": {"field": "y", "type": "quantitative", "scale": {"domain": [-1.2, 45.6], "range": [514, 315], "nice": false, "zero": false}, "axis": null}}},
   {"layer": [
     {"data": {"name": "CLr"}, "mark": {"type": "line", "color": "#e5868b", "strokeWidth": 1.4},
      "encoding": {
       "x": {"field": "x", "type": "quantitative", "scale": {"domain": [5678, 5908], "range": [23, 237.5], "nice": false, "zero": false},
             "axis": {"orient": "bottom", "offset": -280, "title": null, "format": "d", "tickCount": 500, "labelOverlap": false, "labelFlush": false, "values": [5680,5690,5700,5710,5720,5730,5740,5750,5760,5770,5780,5790,5800,5810,5820,5830,5840,5850,5860,5870,5880,5890,5900], "labelExpr": "datum.value % 50 === 0 ? datum.label : ''", "labelFontSize": 6, "tickSize": 3, "labelPadding": 4, "encoding": {"ticks": {"y2": {"value": {"expr": "datum.value % 50 === 0 ? 5 : 3"}}}}}},
       "y": {"field": "y", "type": "quantitative", "scale": {"domain": [-1.2, 45.6], "range": [514, 315], "nice": false, "zero": false},
             "axis": {"orient": "left", "offset": -23, "title": null, "format": "d", "tickCount": 500, "labelOverlap": false, "labelFlush": false, "values": [0,5,10,15,20,25,30,35,40,45], "labelExpr": "datum.value % 10 === 0 ? datum.label : ''", "labelFontSize": 6, "tickSize": 2, "labelPadding": 1, "encoding": {"ticks": {"x2": {"value": {"expr": "datum.value % 10 === 0 ? -3 : -2"}}}}}}}},
     {"data": {"values": [{"x": 5704.9, "y": 44.3, "t": "C"}]}, "mark": {"type": "text", "fontSize": 25, "fontWeight": "bold", "align": "center", "baseline": "middle"},
      "encoding": {"x": {"field": "x", "type": "quantitative", "axis": {"title": null}}, "y": {"field": "y", "type": "quantitative", "axis": {"title": null}}, "text": {"field": "t"}}},
     {"data": {"values": [{"x": 5765.6, "y": 44.3, "t": "ST111 (red) vs. other STs (green)"}]}, "mark": {"type": "text", "fontSize": 20, "align": "left", "baseline": "middle"},
      "encoding": {"x": {"field": "x", "type": "quantitative", "axis": {"title": null}}, "y": {"field": "y", "type": "quantitative", "axis": {"title": null}}, "text": {"field": "t"}}},
     {"data": {"values": [{"x": 5806.7, "y": 21.4, "n": "3,657"}]}, "mark": {"type": "text", "fontSize": 15, "fontStyle": "italic", "align": "right", "baseline": "middle", "text": "m/z"},
      "encoding": {"x": {"field": "x", "type": "quantitative", "axis": {"title": null}}, "y": {"field": "y", "type": "quantitative", "axis": {"title": null}}}},
     {"data": {"values": [{"x": 5806.7, "y": 21.4, "n": "3,657"}]}, "mark": {"type": "text", "fontSize": 15, "align": "left", "baseline": "middle", "dx": 4},
      "encoding": {"x": {"field": "x", "type": "quantitative", "axis": {"title": null}}, "y": {"field": "y", "type": "quantitative", "axis": {"title": null}}, "text": {"field": "n"}}},
     {"data": {"values": [{"x": 5908, "y": 9.9, "y2": -6.6}]}, "mark": {"type": "rule", "color": "#000", "strokeWidth": 1.6},
      "encoding": {"x": {"field": "x", "type": "quantitative", "axis": {"title": null}}, "y": {"field": "y", "type": "quantitative", "axis": {"title": null}}, "y2": {"field": "y2"}}}
   ]},
   {"layer": [
     {"data": {"name": "CMr"}, "mark": {"type": "line", "color": "#d02f35", "strokeWidth": 1.8},
      "encoding": {
       "x": {"field": "x", "type": "quantitative", "scale": {"domain": [10432, 10561.5], "range": [241.5, 391], "nice": false, "zero": false},
             "axis": {"orient": "bottom", "offset": -280, "title": null, "format": "d", "tickCount": 500, "labelOverlap": false, "labelFlush": false, "values": [10440,10460,10480,10500,10520,10540,10560], "labelExpr": "datum.value % 100 === 0 ? datum.label : ''", "labelFontSize": 12, "tickSize": 3, "labelPadding": 3, "encoding": {"ticks": {"y2": {"value": {"expr": "datum.value % 100 === 0 ? 6 : 3"}}}}}},
       "y": {"field": "y", "type": "quantitative", "scale": {"domain": [-1.2, 45.6], "range": [514, 315], "nice": false, "zero": false}, "axis": null}}},
     {"data": {"values": [{"x": 10525.3, "y": 28.7, "n": "10,538"}]}, "mark": {"type": "text", "fontSize": 15, "fontStyle": "italic", "align": "right", "baseline": "middle", "text": "m/z"},
      "encoding": {"x": {"field": "x", "type": "quantitative", "axis": {"title": null}}, "y": {"field": "y", "type": "quantitative", "axis": null}}},
     {"data": {"values": [{"x": 10525.3, "y": 28.7, "n": "10,538"}]}, "mark": {"type": "text", "fontSize": 15, "align": "left", "baseline": "middle", "dx": 4},
      "encoding": {"x": {"field": "x", "type": "quantitative", "axis": {"title": null}}, "y": {"field": "y", "type": "quantitative", "axis": null}, "text": {"field": "n"}}},
     {"data": {"values": [{"x": 10432, "y": 9.9, "y2": -6.6}, {"x": 10561.5, "y": 9.9, "y2": -6.6}]}, "mark": {"type": "rule", "color": "#000", "strokeWidth": 1.6},
      "encoding": {"x": {"field": "x", "type": "quantitative", "axis": {"title": null}}, "y": {"field": "y", "type": "quantitative", "axis": null}, "y2": {"field": "y2"}}}
   ]},
   {"layer": [
     {"data": {"name": "CRr"}, "mark": {"type": "line", "color": "#d02f35", "strokeWidth": 1.8},
      "encoding": {
       "x": {"field": "x", "type": "quantitative", "scale": {"domain": [12478, 12614], "range": [395, 548], "nice": false, "zero": false},
             "axis": {"orient": "bottom", "offset": -280, "title": null, "format": "d", "tickCount": 500, "labelOverlap": false, "labelFlush": false, "values": [12480,12500,12520,12540,12560,12580,12600], "labelExpr": "datum.value % 100 === 0 ? datum.label : ''", "labelFontSize": 12, "tickSize": 3, "labelPadding": 3, "encoding": {"ticks": {"y2": {"value": {"expr": "datum.value % 100 === 0 ? 6 : 3"}}}}}},
       "y": {"field": "y", "type": "quantitative", "scale": {"domain": [-1.2, 45.6], "range": [514, 315], "nice": false, "zero": false}, "axis": null}}},
     {"data": {"values": [{"x": 12567.2, "y": 13.4, "n": "12,579"}]}, "mark": {"type": "text", "fontSize": 15, "fontStyle": "italic", "align": "right", "baseline": "middle", "text": "m/z"},
      "encoding": {"x": {"field": "x", "type": "quantitative", "axis": {"title": null}}, "y": {"field": "y", "type": "quantitative", "axis": null}}},
     {"data": {"values": [{"x": 12567.2, "y": 13.4, "n": "12,579"}]}, "mark": {"type": "text", "fontSize": 15, "align": "left", "baseline": "middle", "dx": 4},
      "encoding": {"x": {"field": "x", "type": "quantitative", "axis": {"title": null}}, "y": {"field": "y", "type": "quantitative", "axis": null}, "text": {"field": "n"}}},
     {"data": {"values": [{"x": 12478, "y": 9.9, "y2": -6.6}]}, "mark": {"type": "rule", "color": "#000", "strokeWidth": 1.6},
      "encoding": {"x": {"field": "x", "type": "quantitative", "axis": {"title": null}}, "y": {"field": "y", "type": "quantitative", "axis": null}, "y2": {"field": "y2"}}}
   ]}
  ],
  "resolve": {"scale": {"x": "independent", "y": "independent"}, "axis": {"x": "independent", "y": "independent"}}},

 {"layer": [
   {"data": {"name": "DLg"}, "mark": {"type": "line", "color": "#48c248", "strokeWidth": 1.4},
    "encoding": {
     "x": {"field": "x", "type": "quantitative", "scale": {"domain": [7077, 7433.3], "range": [606, 935.5], "nice": false, "zero": false},
           "axis": {"orient": "bottom", "offset": -270.5, "domainColor": "#c8c8c8", "domainWidth": 23, "ticks": false, "labels": false, "title": null, "encoding": {"domain": {"x": {"value": 592}, "x2": {"value": 1201}}}}},
     "y": {"field": "y", "type": "quantitative", "scale": {"domain": [-1.12, 25.5], "range": [512, 298], "nice": false, "zero": false},
           "axis": {"orient": "left", "offset": -599, "domainColor": "#c8c8c8", "domainWidth": 14, "ticks": false, "labels": false, "title": null}}}},
   {"data": {"name": "DRg"}, "mark": {"type": "line", "color": "#48c248", "strokeWidth": 1.4},
    "encoding": {
     "x": {"field": "x", "type": "quantitative", "scale": {"domain": [12045.5, 12325.4], "range": [939.5, 1201], "nice": false, "zero": false}, "axis": null},
     "y": {"field": "y", "type": "quantitative", "scale": {"domain": [-1.12, 25.5], "range": [512, 298], "nice": false, "zero": false}, "axis": null}}},
   {"layer": [
     {"data": {"name": "DLr"}, "mark": {"type": "line", "color": "#e05050", "strokeWidth": 1.4},
      "encoding": {
       "x": {"field": "x", "type": "quantitative", "scale": {"domain": [7077, 7433.3], "range": [606, 935.5], "nice": false, "zero": false},
             "axis": {"orient": "bottom", "offset": -282, "title": null, "format": "d", "tickCount": 500, "labelOverlap": false, "labelFlush": false, "values": [7080,7090,7100,7110,7120,7130,7140,7150,7160,7170,7180,7190,7200,7210,7220,7230,7240,7250,7260,7270,7280,7290,7300,7310,7320,7330,7340,7350,7360,7370,7380,7390,7400,7410,7420,7430], "labelExpr": "datum.value % 50 === 0 ? datum.label : ''", "labelFontSize": 7, "tickSize": 3, "labelPadding": 4, "encoding": {"ticks": {"y2": {"value": {"expr": "datum.value % 50 === 0 ? 5 : 3"}}}}}},
       "y": {"field": "y", "type": "quantitative", "scale": {"domain": [-1.12, 25.5], "range": [512, 298], "nice": false, "zero": false},
             "axis": {"orient": "left", "offset": -606, "title": null, "format": "d", "tickCount": 500, "labelOverlap": false, "labelFlush": false, "values": [0,5,10,15,20,25], "labelFontSize": 7, "tickSize": 3, "labelPadding": 1}}}},
     {"data": {"values": [{"x": 7105, "y": 21.9, "t": "D"}]}, "mark": {"type": "text", "fontSize": 25, "fontWeight": "bold", "align": "center", "baseline": "middle"},
      "encoding": {"x": {"field": "x", "type": "quantitative", "axis": {"title": null}}, "y": {"field": "y", "type": "quantitative", "axis": {"title": null}}, "text": {"field": "t"}}},
     {"data": {"values": [{"x": 7259.6, "y": 21.9, "t": "ST175 (red) vs. other STs (green)"}]}, "mark": {"type": "text", "fontSize": 20, "align": "left", "baseline": "middle"},
      "encoding": {"x": {"field": "x", "type": "quantitative", "axis": {"title": null}}, "y": {"field": "y", "type": "quantitative", "axis": {"title": null}}, "text": {"field": "t"}}},
     {"data": {"values": [{"x": 7295.8, "y": 14.9, "n": "7,329"}, {"x": 7416, "y": 14.9, "n": "7,359"}]}, "mark": {"type": "text", "fontSize": 15, "fontStyle": "italic", "align": "right", "baseline": "middle", "text": "m/z"},
      "encoding": {"x": {"field": "x", "type": "quantitative", "axis": {"title": null}}, "y": {"field": "y", "type": "quantitative", "axis": {"title": null}}}},
     {"data": {"values": [{"x": 7295.8, "y": 14.9, "n": "7,329"}, {"x": 7416, "y": 14.9, "n": "7,359"}]}, "mark": {"type": "text", "fontSize": 15, "align": "left", "baseline": "middle", "dx": 4},
      "encoding": {"x": {"field": "x", "type": "quantitative", "axis": {"title": null}}, "y": {"field": "y", "type": "quantitative", "axis": {"title": null}}, "text": {"field": "n"}}},
     {"data": {"values": [{"x": 7433.3, "y": 2.5, "y2": -4.2}]}, "mark": {"type": "rule", "color": "#000", "strokeWidth": 1.6},
      "encoding": {"x": {"field": "x", "type": "quantitative", "axis": {"title": null}}, "y": {"field": "y", "type": "quantitative", "axis": {"title": null}}, "y2": {"field": "y2"}}}
   ]},
   {"layer": [
     {"data": {"name": "DRr"}, "mark": {"type": "line", "color": "#e05050", "strokeWidth": 1.4},
      "encoding": {
       "x": {"field": "x", "type": "quantitative", "scale": {"domain": [12045.5, 12325.4], "range": [939.5, 1201], "nice": false, "zero": false},
             "axis": {"orient": "bottom", "offset": -282, "title": null, "format": "d", "tickCount": 500, "labelOverlap": false, "labelFlush": false, "values": [12060,12080,12100,12120,12140,12160,12180,12200,12220,12240,12260,12280,12300,12320], "labelExpr": "datum.value % 100 === 0 ? datum.label : ''", "labelFontSize": 7, "tickSize": 3, "labelPadding": 4, "encoding": {"ticks": {"y2": {"value": {"expr": "datum.value % 100 === 0 ? 5 : 3"}}}}}},
       "y": {"field": "y", "type": "quantitative", "scale": {"domain": [-1.12, 25.5], "range": [512, 298], "nice": false, "zero": false}, "axis": null}}},
     {"data": {"values": [{"x": 12144, "y": 11.4, "n": "12,154"}]}, "mark": {"type": "text", "fontSize": 15, "fontStyle": "italic", "align": "right", "baseline": "middle", "text": "m/z"},
      "encoding": {"x": {"field": "x", "type": "quantitative", "axis": {"title": null}}, "y": {"field": "y", "type": "quantitative", "axis": null}}},
     {"data": {"values": [{"x": 12144, "y": 11.4, "n": "12,154"}]}, "mark": {"type": "text", "fontSize": 15, "align": "left", "baseline": "middle", "dx": 4},
      "encoding": {"x": {"field": "x", "type": "quantitative", "axis": {"title": null}}, "y": {"field": "y", "type": "quantitative", "axis": null}, "text": {"field": "n"}}},
     {"data": {"values": [{"x": 12156, "y": 10.1, "y2": 7.0}]}, "mark": {"type": "rule", "color": "#111", "strokeWidth": 1.5},
      "encoding": {"x": {"field": "x", "type": "quantitative", "axis": {"title": null}}, "y": {"field": "y", "type": "quantitative", "axis": null}, "y2": {"field": "y2"}}},
     {"data": {"values": [{"x": 12156, "y": 10.1, "y2": 7.0}]}, "mark": {"type": "point", "shape": "M-1,-1L0,0L1,-1", "filled": false, "color": "#111", "strokeWidth": 1.5, "size": 50, "opacity": 1},
      "encoding": {"x": {"field": "x", "type": "quantitative", "axis": {"title": null}}, "y": {"field": "y2", "type": "quantitative", "axis": null}}},
     {"data": {"values": [{"x": 12045.5, "y": 2.5, "y2": -4.2}]}, "mark": {"type": "rule", "color": "#000", "strokeWidth": 1.6},
      "encoding": {"x": {"field": "x", "type": "quantitative", "axis": {"title": null}}, "y": {"field": "y", "type": "quantitative", "axis": null}, "y2": {"field": "y2"}}}
   ]}
  ],
  "resolve": {"scale": {"x": "independent", "y": "independent"}, "axis": {"x": "independent", "y": "independent"}}},

 {"layer": [
   {"data": {"name": "Eg"}, "mark": {"type": "line", "color": "#45c445"},
    "encoding": {
     "x": {"field": "x", "type": "quantitative", "scale": {"domain": [5677.4, 5906], "range": [32, 559], "nice": false, "zero": false},
           "axis": {"orient": "bottom", "offset": -5, "domainColor": "#c8c8c8", "domainWidth": 22, "ticks": false, "labels": false, "title": null, "encoding": {"domain": {"x": {"value": 7}, "x2": {"value": 559}}}}},
     "y": {"field": "y", "type": "quantitative", "scale": {"domain": [-1, 44.8], "range": [778, 588], "nice": false, "zero": false},
           "axis": {"orient": "left", "offset": -19.5, "domainColor": "#c8c8c8", "domainWidth": 25, "ticks": false, "labels": false, "title": null}}}},
   {"layer": [
     {"data": {"name": "Er"}, "mark": {"type": "line", "color": "#d23a3a"},
      "encoding": {
       "x": {"field": "x", "type": "quantitative", "scale": {"domain": [5677.4, 5906], "range": [32, 559], "nice": false, "zero": false},
             "axis": {"orient": "bottom", "offset": -16, "title": null, "format": "d", "tickCount": 500, "labelOverlap": false, "labelFlush": false, "values": [5680,5690,5700,5710,5720,5730,5740,5750,5760,5770,5780,5790,5800,5810,5820,5830,5840,5850,5860,5870,5880,5890,5900], "labelExpr": "datum.value % 50 === 0 ? datum.label : ''", "labelFontSize": 12, "tickSize": 4, "labelPadding": 1, "encoding": {"ticks": {"y2": {"value": {"expr": "datum.value % 50 === 0 ? 5 : 3"}}}}}},
       "y": {"field": "y", "type": "quantitative", "scale": {"domain": [-1, 44.8], "range": [778, 588], "nice": false, "zero": false},
             "axis": {"orient": "left", "offset": -32, "title": null, "format": "d", "tickCount": 500, "labelOverlap": false, "labelFlush": false, "values": [0,5,10,15,20,25,30,35,40], "labelExpr": "datum.value % 10 === 0 ? datum.label : ''", "labelFontSize": 11, "tickSize": 4, "labelPadding": 2, "encoding": {"ticks": {"x2": {"value": {"expr": "datum.value % 10 === 0 ? -5 : -3"}}}}}}}},
     {"data": {"values": [{"x": 5687.8, "y": 43.9, "t": "E"}]}, "mark": {"type": "text", "fontSize": 25, "fontWeight": "bold", "align": "center", "baseline": "middle"},
      "encoding": {"x": {"field": "x", "type": "quantitative", "axis": {"title": null}}, "y": {"field": "y", "type": "quantitative", "axis": {"title": null}}, "text": {"field": "t"}}},
     {"data": {"values": [{"x": 5709.2, "y": 43.1, "t": "ST253 (red) vs. other STs (green)"}]}, "mark": {"type": "text", "fontSize": 20, "align": "left", "baseline": "middle"},
      "encoding": {"x": {"field": "x", "type": "quantitative", "axis": {"title": null}}, "y": {"field": "y", "type": "quantitative", "axis": {"title": null}}, "text": {"field": "t"}}},
     {"data": {"values": [{"x": 5809.4, "y": 21.9, "n": "5,813"}]}, "mark": {"type": "text", "fontSize": 15, "fontStyle": "italic", "align": "right", "baseline": "middle", "text": "m/z"},
      "encoding": {"x": {"field": "x", "type": "quantitative", "axis": {"title": null}}, "y": {"field": "y", "type": "quantitative", "axis": {"title": null}}}},
     {"data": {"values": [{"x": 5809.4, "y": 21.9, "n": "5,813"}]}, "mark": {"type": "text", "fontSize": 15, "align": "left", "baseline": "middle", "dx": 4},
      "encoding": {"x": {"field": "x", "type": "quantitative", "axis": {"title": null}}, "y": {"field": "y", "type": "quantitative", "axis": {"title": null}}, "text": {"field": "n"}}}
   ]}
  ],
  "resolve": {"scale": {"x": "independent", "y": "independent"}, "axis": {"x": "independent", "y": "independent"}}},

 {"layer": [
   {"data": {"name": "Fg"}, "mark": {"type": "line", "color": "#3dc13d"},
    "encoding": {
     "x": {"field": "x", "type": "quantitative", "scale": {"domain": [8441.5, 8992], "range": [614, 1208], "nice": false, "zero": false},
           "axis": {"orient": "bottom", "offset": -8, "domainColor": "#c8c8c8", "domainWidth": 22, "ticks": false, "labels": false, "title": null, "encoding": {"domain": {"x": {"value": 593}, "x2": {"value": 1208}}}}},
     "y": {"field": "y", "type": "quantitative", "scale": {"domain": [-0.62, 10.26], "range": [775, 565], "nice": false, "zero": false},
           "axis": {"orient": "left", "offset": -603.5, "domainColor": "#c8c8c8", "domainWidth": 21, "ticks": false, "labels": false, "title": null}}}},
   {"layer": [
     {"data": {"name": "Fr"}, "mark": {"type": "line", "color": "#de2f35"},
      "encoding": {
       "x": {"field": "x", "type": "quantitative", "scale": {"domain": [8441.5, 8992], "range": [614, 1208], "nice": false, "zero": false},
             "axis": {"orient": "bottom", "offset": -19, "title": null, "format": "d", "tickCount": 500, "labelOverlap": false, "labelFlush": false, "values": [8460,8480,8500,8520,8540,8560,8580,8600,8620,8640,8660,8680,8700,8720,8740,8760,8780,8800,8820,8840,8860,8880,8900,8920,8940,8960,8980], "labelExpr": "datum.value % 100 === 0 ? datum.label : ''", "labelFontSize": 11, "tickSize": 4, "labelPadding": 3, "encoding": {"ticks": {"y2": {"value": {"expr": "datum.value % 100 === 0 ? 6 : 4"}}}}}},
       "y": {"field": "y", "type": "quantitative", "scale": {"domain": [-0.62, 10.26], "range": [775, 565], "nice": false, "zero": false},
             "axis": {"orient": "left", "offset": -614, "title": null, "format": "d", "tickCount": 500, "labelOverlap": false, "labelFlush": false, "values": [0,1,2,3,4,5,6,7,8,9,10], "labelExpr": "datum.value % 2 === 0 ? datum.label : ''", "labelFontSize": 10, "tickSize": 4, "labelPadding": 2, "encoding": {"ticks": {"x2": {"value": {"expr": "datum.value % 2 === 0 ? -5 : -3"}}}}}}}},
     {"data": {"values": [{"x": 8455, "y": 8.79, "t": "F"}]}, "mark": {"type": "text", "fontSize": 25, "fontWeight": "bold", "align": "center", "baseline": "middle"},
      "encoding": {"x": {"field": "x", "type": "quantitative", "axis": {"title": null}}, "y": {"field": "y", "type": "quantitative", "axis": {"title": null}}, "text": {"field": "t"}}},
     {"data": {"values": [{"x": 8508.3, "y": 8.88, "t": "ST395 (red) vs. other STs (green)"}]}, "mark": {"type": "text", "fontSize": 20, "align": "left", "baseline": "middle"},
      "encoding": {"x": {"field": "x", "type": "quantitative", "axis": {"title": null}}, "y": {"field": "y", "type": "quantitative", "axis": {"title": null}}, "text": {"field": "t"}}},
     {"data": {"values": [{"x": 8540.5, "y": 4.82, "n": "8,550"}]}, "mark": {"type": "text", "fontSize": 15, "fontStyle": "italic", "align": "right", "baseline": "middle", "text": "m/z"},
      "encoding": {"x": {"field": "x", "type": "quantitative", "axis": {"title": null}}, "y": {"field": "y", "type": "quantitative", "axis": {"title": null}}}},
     {"data": {"values": [{"x": 8540.5, "y": 4.82, "n": "8,550"}]}, "mark": {"type": "text", "fontSize": 15, "align": "left", "baseline": "middle", "dx": 4},
      "encoding": {"x": {"field": "x", "type": "quantitative", "axis": {"title": null}}, "y": {"field": "y", "type": "quantitative", "axis": {"title": null}}, "text": {"field": "n"}}},
     {"data": {"values": [{"x": 8549.6, "y": 4.13, "y2": 3.0}]}, "mark": {"type": "rule", "color": "#111", "strokeWidth": 1.5},
      "encoding": {"x": {"field": "x", "type": "quantitative", "axis": {"title": null}}, "y": {"field": "y", "type": "quantitative", "axis": {"title": null}}, "y2": {"field": "y2"}}},
     {"data": {"values": [{"x": 8549.6, "y": 4.13, "y2": 3.0}]}, "mark": {"type": "point", "shape": "M-1,-1L0,0L1,-1", "filled": false, "color": "#111", "strokeWidth": 1.5, "size": 50, "opacity": 1},
      "encoding": {"x": {"field": "x", "type": "quantitative", "axis": {"title": null}}, "y": {"field": "y2", "type": "quantitative", "axis": {"title": null}}}}
   ]}
  ],
  "resolve": {"scale": {"x": "independent", "y": "independent"}, "axis": {"x": "independent", "y": "independent"}}}
],
"resolve": {"scale": {"x": "independent", "y": "independent"}, "axis": {"x": "independent", "y": "independent"}}
}
